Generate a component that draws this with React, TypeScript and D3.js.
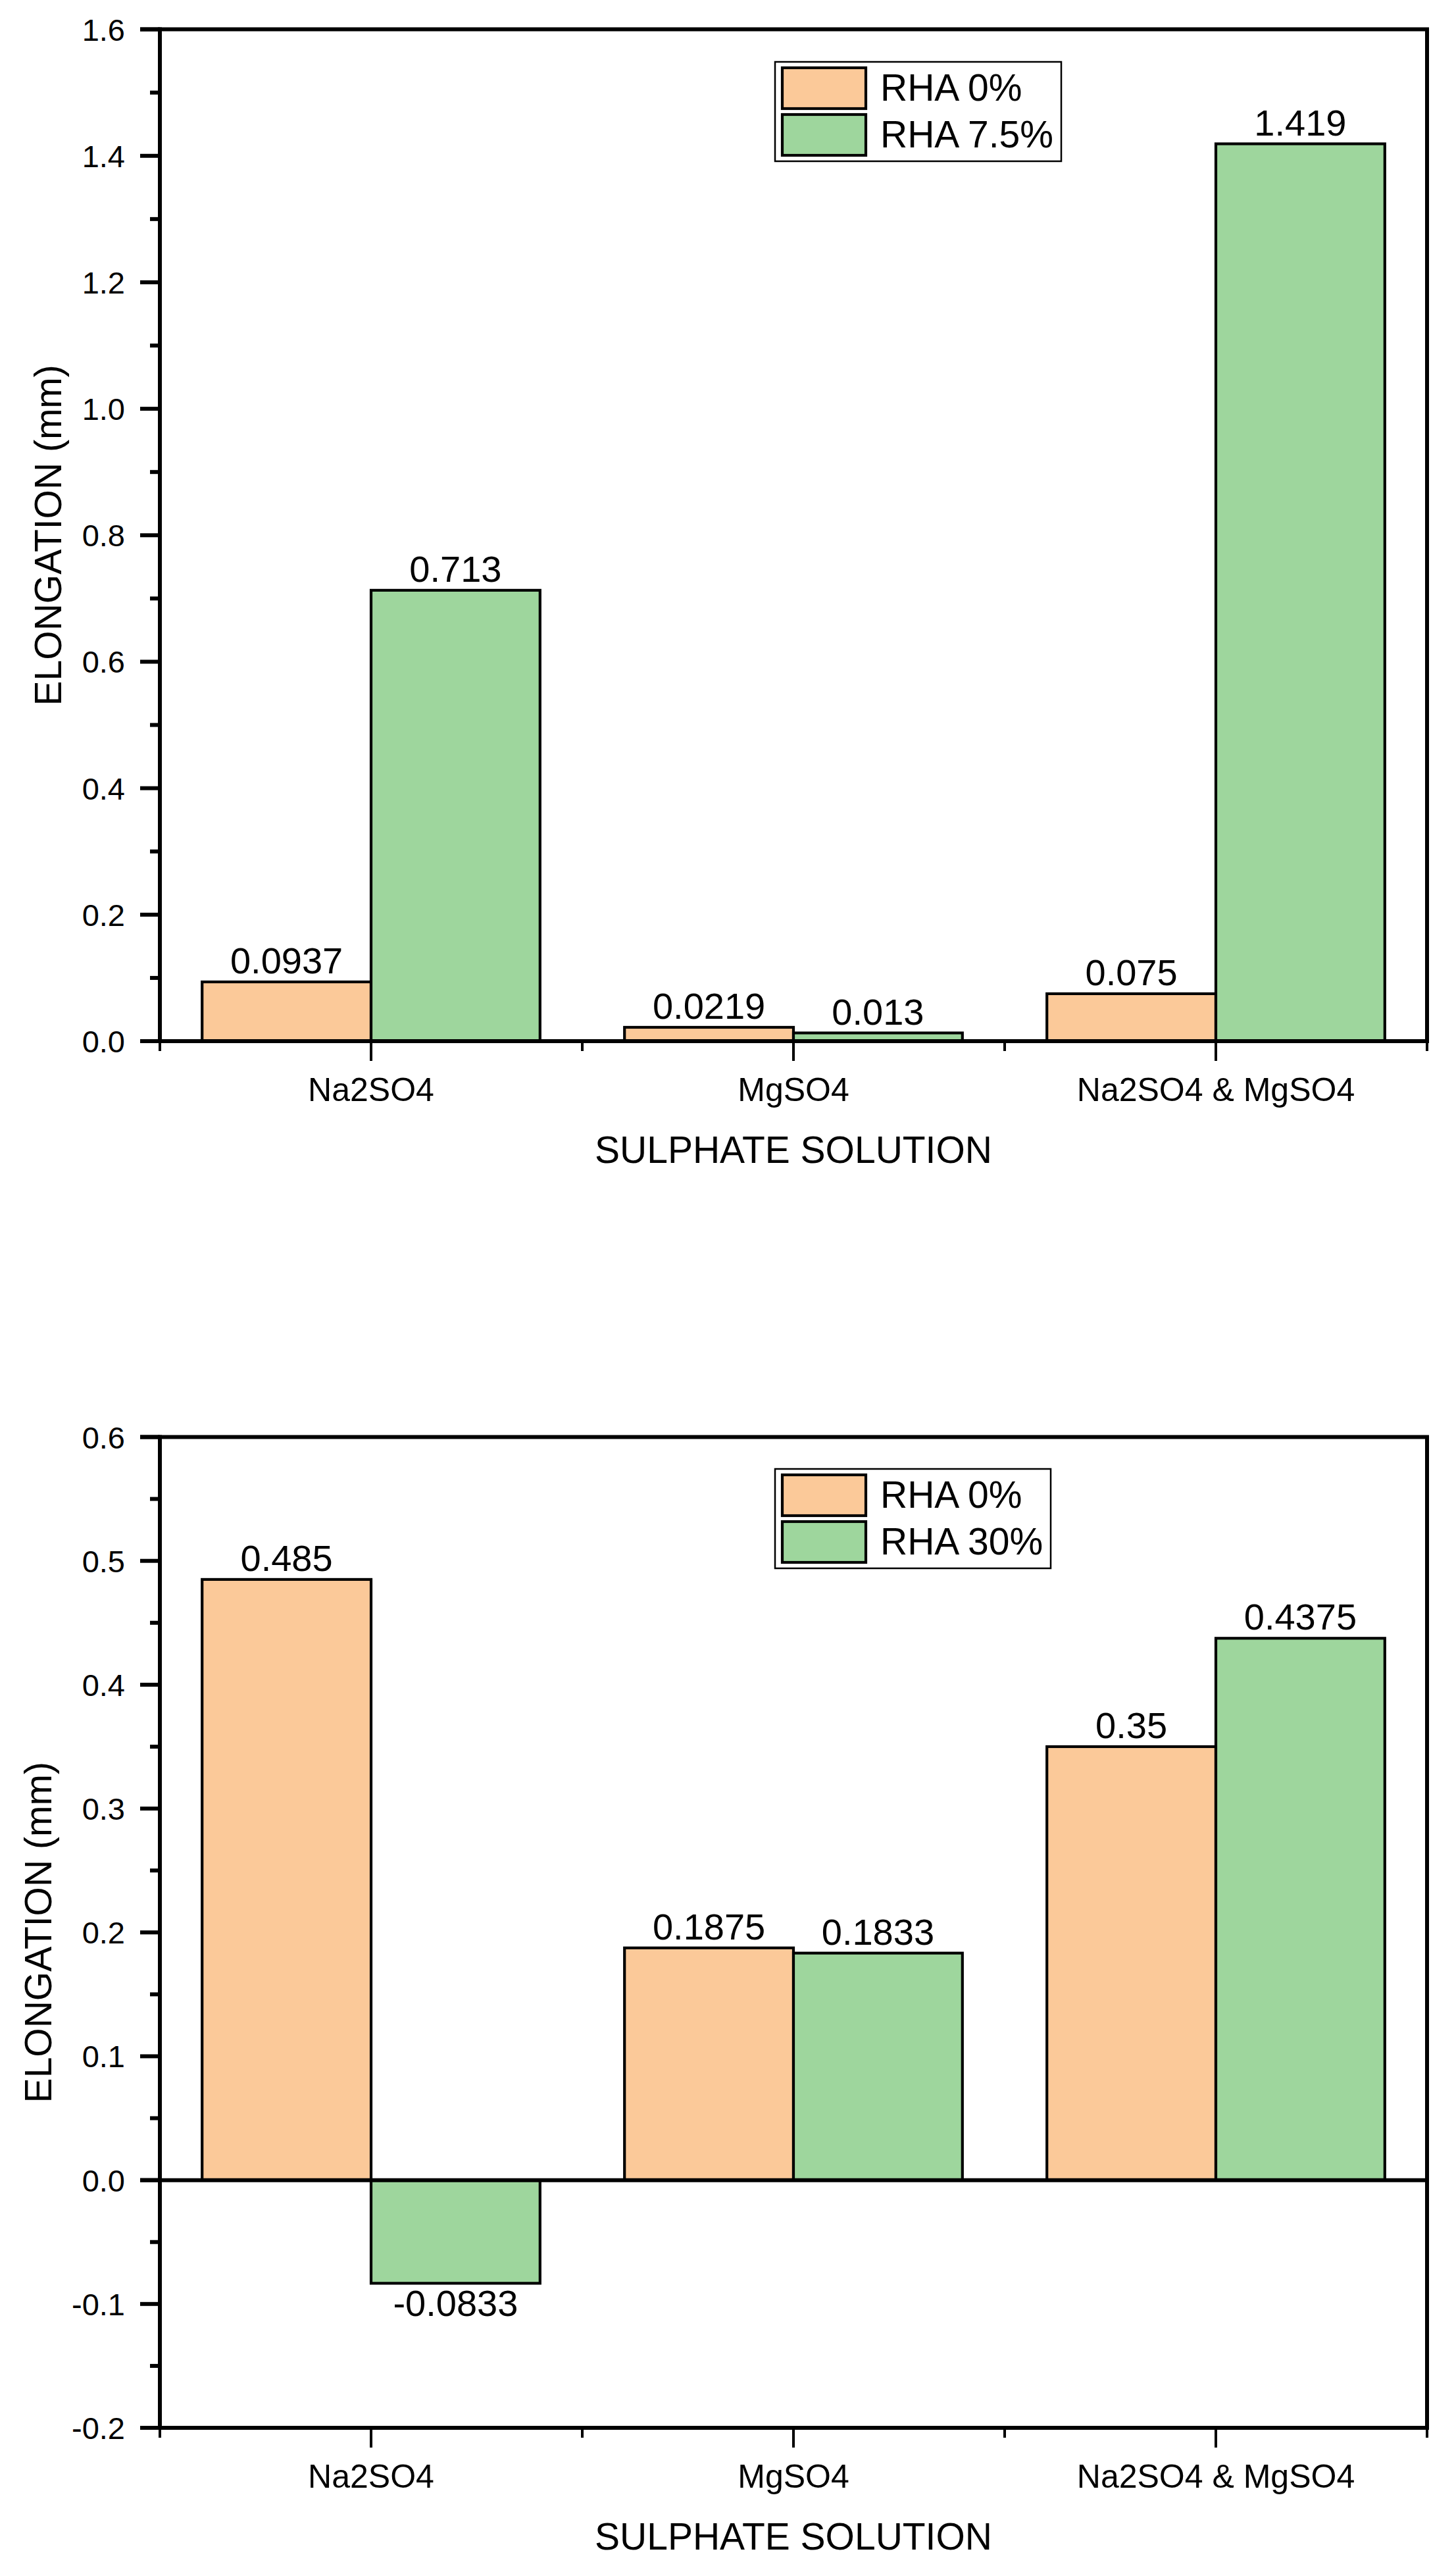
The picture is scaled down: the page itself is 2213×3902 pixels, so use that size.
import React from "react";
import * as d3 from "d3";

const categories = ["Na2SO4", "MgSO4", "Na2SO4 & MgSO4"];

const topSeries = ["RHA 0%", "RHA 7.5%"];
const topRha0 = [0.0937, 0.0219, 0.075];
const topRha75 = [0.713, 0.013, 1.419];
const topLabels0 = ["0.0937", "0.0219", "0.075"];
const topLabels1 = ["0.713", "0.013", "1.419"];
const topMajorTicks = [0, 0.2, 0.4, 0.6, 0.8, 1.0, 1.2, 1.4, 1.6];
const topMinorTicks = [0.1, 0.3, 0.5, 0.7, 0.9, 1.1, 1.3, 1.5];

const botSeries = ["RHA 0%", "RHA 30%"];
const botRha0 = [0.485, 0.1875, 0.35];
const botRha30 = [-0.0833, 0.1833, 0.4375];
const botLabels0 = ["0.485", "0.1875", "0.35"];
const botLabels1 = ["-0.0833", "0.1833", "0.4375"];
const botMajorTicks = [-0.2, -0.1, 0, 0.1, 0.2, 0.3, 0.4, 0.5, 0.6];
const botMinorTicks = [-0.15, -0.05, 0.05, 0.15, 0.25, 0.35, 0.45, 0.55];

const COLORS = ["#FBC999", "#9ED69D"];
const FONT = "'Liberation Sans', Arial, Helvetica, sans-serif";

type PanelProps = {
  top: number;
  bottom: number;
  yDomain: [number, number];
  majors: number[];
  minors: number[];
  tickDigits: number;
  series: string[];
  values: number[][];
  labels: string[][];
  legendTop: number;
  titleX: number;
};

function Panel(p: PanelProps) {
  const left = 243;
  const right = 2169;
  const y = d3.scaleLinear().domain(p.yDomain).range([p.bottom, p.top]);
  const x = d3.scaleBand().domain(categories).range([left, right]).paddingInner(0).paddingOuter(0);
  const bw = x.bandwidth();
  const xi = d3.scaleBand().domain(p.series).range([0.1 * bw, 0.9 * bw]).padding(0);
  const fmtRaw = d3.format(`.${p.tickDigits}f`);
  const fmt = (v: number) => fmtRaw(v).replace("\u2212", "-");
  const AX = 6;
  const y0 = y(0);
  const yBase = p.bottom;

  const legendLeft = 1178;
  const legendRight = p.legendTop < 1000 ? 1613 : 1597;
  const rowH = 71;

  return (
    <g>
      {p.series.map((s, si) =>
        categories.map((c, ci) => {
          const v = p.values[si][ci];
          const bx = (x(c) as number) + (xi(s) as number);
          const yy = Math.min(y(v), y0);
          const h = Math.abs(y(v) - y0);
          return (
            <rect key={`${si}-${ci}`} x={bx} y={yy} width={xi.bandwidth()} height={h}
              fill={COLORS[si]} stroke="#000" strokeWidth={4.2} />
          );
        })
      )}
      {p.series.map((s, si) =>
        categories.map((c, ci) => {
          const v = p.values[si][ci];
          const cx = (x(c) as number) + (xi(s) as number) + xi.bandwidth() / 2;
          const ty = v >= 0 ? y(v) - 13 : y(v) + 50;
          return (
            <text key={`l${si}-${ci}`} x={cx} y={ty} textAnchor="middle" fontSize={56} fontFamily={FONT} fill="#000">
              {p.labels[si][ci]}
            </text>
          );
        })
      )}
      {p.yDomain[0] < 0 && (
        <line x1={left - 30} x2={right} y1={y0} y2={y0} stroke="#000" strokeWidth={AX} />
      )}
      <line x1={left - 30} x2={right + AX / 2} y1={p.top} y2={p.top} stroke="#000" strokeWidth={AX} />
      <line x1={right} x2={right} y1={p.top} y2={yBase} stroke="#000" strokeWidth={AX} />
      <line x1={left} x2={left} y1={p.top - AX / 2} y2={yBase + AX / 2} stroke="#000" strokeWidth={AX} />
      <line x1={left - 30} x2={right + AX / 2} y1={yBase} y2={yBase} stroke="#000" strokeWidth={AX} />
      {p.majors.map((t) => (
        <g key={`mj${t}`}>
          <line x1={left - 30} x2={left} y1={y(t)} y2={y(t)} stroke="#000" strokeWidth={AX} />
          <text x={190} y={y(t) + 17} textAnchor="end" fontSize={47} fontFamily={FONT} fill="#000">
            {fmt(t)}
          </text>
        </g>
      ))}
      {p.minors.map((t) => (
        <line key={`mn${t}`} x1={left - 15} x2={left} y1={y(t)} y2={y(t)} stroke="#000" strokeWidth={AX} />
      ))}
      {categories.map((c) => {
        const cx = (x(c) as number) + bw / 2;
        return (
          <g key={`xt${c}`}>
            <line x1={cx} x2={cx} y1={yBase} y2={yBase + 30} stroke="#000" strokeWidth={4} />
            <text x={cx} y={yBase + 91} textAnchor="middle" fontSize={50} fontFamily={FONT} fill="#000">
              {c}
            </text>
          </g>
        );
      })}
      {[0, 1, 2, 3].map((i) => {
        const xx = left + i * bw;
        return <line key={`xm${i}`} x1={xx} x2={xx} y1={yBase} y2={yBase + 15} stroke="#000" strokeWidth={4} />;
      })}
      <text x={(left + right) / 2} y={yBase + 185} textAnchor="middle" fontSize={57} fontFamily={FONT} fill="#000">
        SULPHATE SOLUTION
      </text>
      <text transform={`translate(${p.titleX},${(p.top + p.bottom) / 2}) rotate(-90)`} textAnchor="middle"
        fontSize={57} fontFamily={FONT} fill="#000">
        ELONGATION (mm)
      </text>
      <rect x={legendLeft} y={p.legendTop} width={legendRight - legendLeft} height={151}
        fill="#fff" stroke="#000" strokeWidth={2.5} />
      {p.series.map((s, si) => (
        <g key={`lg${s}`}>
          <rect x={legendLeft + 11} y={p.legendTop + 9 + si * rowH} width={127} height={62}
            fill={COLORS[si]} stroke="#000" strokeWidth={4.2} />
          <text x={1338} y={p.legendTop + 59 + si * rowH} fontSize={57} fontFamily={FONT} fill="#000">
            {s}
          </text>
        </g>
      ))}
    </g>
  );
}

export default function App() {
  return (
    <svg width={2213} height={3902} viewBox="0 0 2213 3902"
      style={{ position: "absolute", left: 0, top: 0, background: "#fff" }}>
      <rect x={0} y={0} width={2213} height={3902} fill="#fff" />
      <Panel top={44.6} bottom={1582} yDomain={[0, 1.6]} majors={topMajorTicks} minors={topMinorTicks}
        tickDigits={1} series={topSeries} values={[topRha0, topRha75]} labels={[topLabels0, topLabels1]}
        legendTop={94} titleX={93} />
      <Panel top={2183.5} bottom={3689} yDomain={[-0.2, 0.6]} majors={botMajorTicks} minors={botMinorTicks}
        tickDigits={1} series={botSeries} values={[botRha0, botRha30]} labels={[botLabels0, botLabels1]}
        legendTop={2232} titleX={78} />
    </svg>
  );
}
